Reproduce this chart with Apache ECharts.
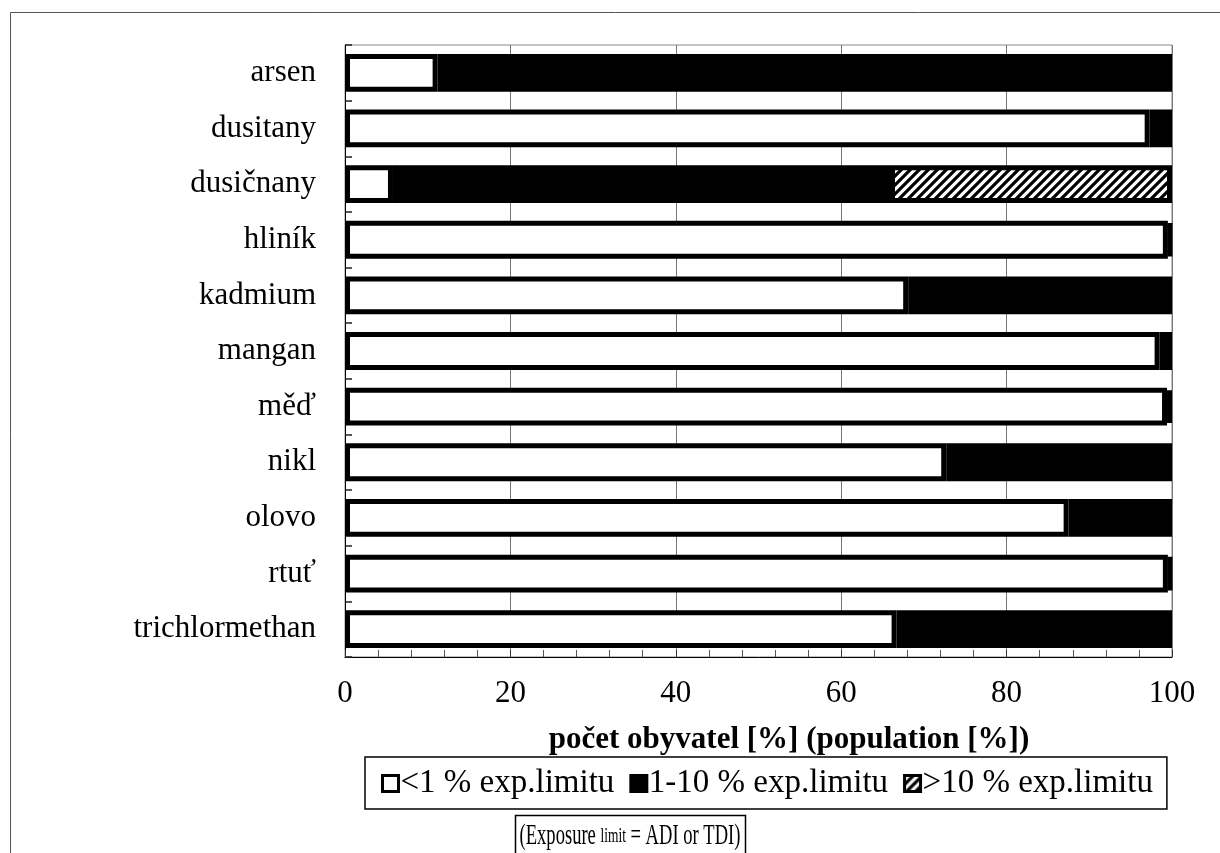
<!DOCTYPE html>
<html>
<head>
<meta charset="utf-8">
<script src="https://cdn.jsdelivr.net/npm/echarts@6/dist/echarts.min.js"></script>
<style>html,body{margin:0;padding:0;background:#fff}#c{width:1220px;height:853px}</style>
</head>
<body>
<div id="c"></div>
<script>
const categories = ['arsen','dusitany','dusičnany','hliník','kadmium','mangan','měď','nikl','olovo','rtuť','trichlormethan'];
const below1 = [11.2, 97.3, 5.8, 99.5, 68.1, 98.5, 99.4, 72.7, 87.5, 99.5, 66.7];
const from1to10 = [88.8, 2.7, 60.1, 0.5, 31.9, 1.5, 0.6, 27.3, 12.5, 0.5, 33.3];
const above10 = [null, null, 34.1, null, null, null, null, null, null, null, null];
const seriesNames = ['<1 % exp.limitu', '1-10 % exp.limitu', '>10 % exp.limitu'];
const xTicks = [0, 20, 40, 60, 80, 100];
const xAxisTitle = 'počet obyvatel [%] (population [%])';

const FONT = '"Liberation Serif", "Times New Roman", serif';

// hatch pattern
const pc = document.createElement('canvas');
pc.width = 9; pc.height = 9;
const g = pc.getContext('2d');
g.fillStyle = '#fff'; g.fillRect(0,0,9,9);
g.strokeStyle = '#000'; g.lineWidth = 3.2;
g.beginPath();
g.moveTo(-1,10); g.lineTo(10,-1);
g.moveTo(-5,5); g.lineTo(5,-5);
g.moveTo(4,14); g.lineTo(14,4);
g.stroke();

const chart = echarts.init(document.getElementById('c'));
chart.setOption({
  animation: false,
  backgroundColor: '#fff',
  grid: { left: 345, right: 48, top: 45, bottom: 196, show: true, borderColor: '#888', borderWidth: 1 },
  xAxis: {
    type: 'value', min: xTicks[0], max: xTicks[xTicks.length-1], interval: 20,
    axisLine: { show: true, lineStyle: { color: '#000', width: 1 } },
    axisTick: { show: true, inside: true, length: 7, lineStyle: { color: '#333' } },
    minorTick: { show: true, splitNumber: 5, length: 7, lineStyle: { color: '#555' } },
    splitLine: { show: true, lineStyle: { color: '#777', width: 1 } },
    axisLabel: { fontFamily: FONT, fontSize: 31, color: '#000', margin: 21 }
  },
  yAxis: {
    type: 'category', data: categories, inverse: true,
    axisLine: { show: true, lineStyle: { color: '#000', width: 1 } },
    axisTick: { show: true, inside: true, length: 7, lineStyle: { color: '#222', width: 1.5 } },
    axisLabel: { fontFamily: FONT, fontSize: 31, color: '#000', margin: 29 },
    splitLine: { show: false }
  },
  legend: {
    left: 365, top: 757,
    data: seriesNames,
    itemWidth: 16, itemHeight: 16, itemGap: 15,
    itemStyle: { borderColor: '#000', borderWidth: 3 },
    borderColor: '#000', borderWidth: 1.5, padding: [10, 14, 9, 16],
    textStyle: { fontFamily: FONT, fontSize: 33, color: '#000', padding: [0,0,0,-3] },
    icon: 'rect'
  },
  series: [
    { name: seriesNames[0], type: 'bar', stack: 't', data: below1, barCategoryGap: '32%',
      itemStyle: { color: '#fff', borderColor: '#000', borderWidth: 5 } },
    { name: seriesNames[1], type: 'bar', stack: 't', data: from1to10,
      itemStyle: { color: '#000', borderColor: '#000', borderWidth: 5 } },
    { name: seriesNames[2], type: 'bar', stack: 't', data: above10,
      itemStyle: { color: { image: pc, repeat: 'repeat' }, borderColor: '#000', borderWidth: 5 } }
  ],
  graphic: [
    { type: 'rect', shape: { x: 10.5, y: 12.5, width: 1400, height: 1000 }, style: { fill: 'none', stroke: '#555', lineWidth: 1 }, silent: true, z: -10 },
    { type: 'text', x: 789, y: 740, z: 11,
      style: { text: xAxisTitle, align: 'center', verticalAlign: 'middle', fontFamily: FONT, fontSize: 31, fontWeight: 'bold', fill: '#000' } },
    { type: 'rect', shape: { x: 515.5, y: 815.5, width: 230, height: 60 }, style: { fill: '#fff', stroke: '#000', lineWidth: 1.5 }, z: 10 },
    { type: 'text', x: 630, y: 836, scaleX: 0.64, z: 11,
      style: { text: '{a|(Exposure }{b|limit}{a| = ADI or TDI)}', align: 'center', verticalAlign: 'middle',
        rich: { a: { fontFamily: FONT, fontSize: 29, fill: '#000' }, b: { fontFamily: FONT, fontSize: 21, fill: '#000' } } } }
  ]
});
</script>
</body>
</html>
